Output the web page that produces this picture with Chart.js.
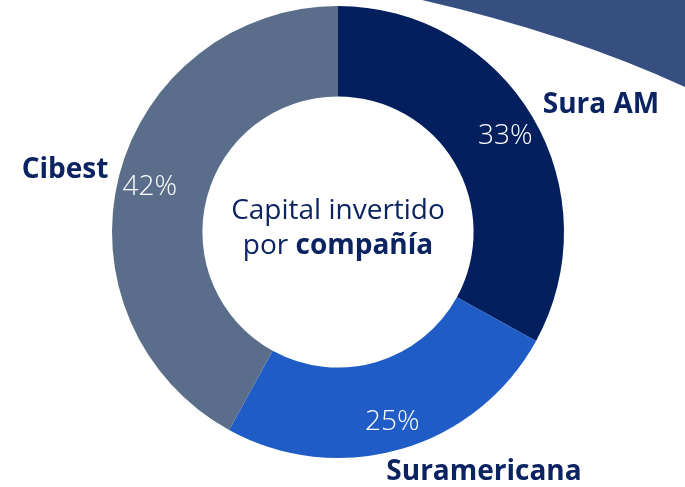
<!DOCTYPE html>
<html><head><meta charset="utf-8">
<script src="https://cdn.jsdelivr.net/npm/chart.js@4/dist/chart.umd.min.js"></script>
<style>html,body{margin:0;padding:0;background:#fff;}#wrap{width:685px;height:487px;position:relative;}</style>
</head><body><div id="wrap"><canvas id="c" width="685" height="487"></canvas></div>
<script>
const categories = ["Sura AM", "Suramericana", "Cibest"];
const values = [33, 25, 42];
const percentLabels = ["33%", "25%", "42%"];
const centerLine1 = "Capital invertido";
const centerLine2a = "por ";
const centerLine2b = "compañía";

const colors = ["#031f5e", "#1f5cc6", "#5a6e8b"];
const navy = "#0b2461";
const FONT = "'Open Sans'";

const decoPlugin = {
  id: 'deco',
  beforeDraw(chart) {
    const ctx = chart.ctx;
    ctx.save();
    ctx.fillStyle = "#374e80";
    ctx.beginPath();
    ctx.moveTo(422, 0);
    ctx.quadraticCurveTo(570, 34, 685, 87);
    ctx.lineTo(685, 0);
    ctx.closePath();
    ctx.fill();
    ctx.restore();
  }
};

const labelPlugin = {
  id: 'labels',
  afterDraw(chart) {
    const ctx = chart.ctx;
    const meta = chart.getDatasetMeta(0);
    ctx.save();
    ctx.textAlign = "center";
    ctx.textBaseline = "middle";
    meta.data.forEach((arc, i) => {
      const p = arc.getProps(['x','y','startAngle','endAngle','outerRadius','innerRadius'], true);
      const mid = (p.startAngle + p.endAngle) / 2;
      const r = p.outerRadius * 0.86;
      ctx.fillStyle = "#ffffff";
      ctx.font = `300 28px ${FONT}`;
      ctx.fillText(percentLabels[i], p.x + Math.cos(mid) * r, p.y + Math.sin(mid) * r + 3);
      let lx, ly;
      if (i === 0) { lx = p.x + 263; ly = p.y - 127; }
      else if (i === 1) { lx = p.x + 146; ly = p.y + 240; }
      else { lx = p.x - 273; ly = p.y - 62; }
      ctx.fillStyle = navy;
      ctx.font = `bold 28px ${FONT}`;
      ctx.fillText(categories[i], lx, ly);
    });
    const a0 = meta.data[0];
    const cx = a0.x, cy = a0.y;
    ctx.fillStyle = navy;
    ctx.font = `400 28px ${FONT}`;
    ctx.fillText(centerLine1, cx, cy - 21);
    const w1 = ctx.measureText(centerLine2a).width;
    ctx.font = `bold 28px ${FONT}`;
    const w2 = ctx.measureText(centerLine2b).width;
    const start = cx - (w1 + w2) / 2;
    ctx.textAlign = "left";
    ctx.font = `400 28px ${FONT}`;
    ctx.fillText(centerLine2a, start, cy + 14);
    ctx.font = `bold 28px ${FONT}`;
    ctx.fillText(centerLine2b, start + w1, cy + 14);
    ctx.restore();
  }
};

new Chart(document.getElementById('c'), {
  type: 'doughnut',
  data: {
    labels: categories,
    datasets: [{ data: values, backgroundColor: colors, borderWidth: 0, hoverOffset: 0 }]
  },
  options: {
    responsive: false,
    animation: false,
    cutout: '60%',
    layout: { padding: { top: 6, bottom: 29, left: 0, right: 9 } },
    plugins: { legend: { display: false }, tooltip: { enabled: false } },
    events: []
  },
  plugins: [decoPlugin, labelPlugin]
});
</script></body></html>
